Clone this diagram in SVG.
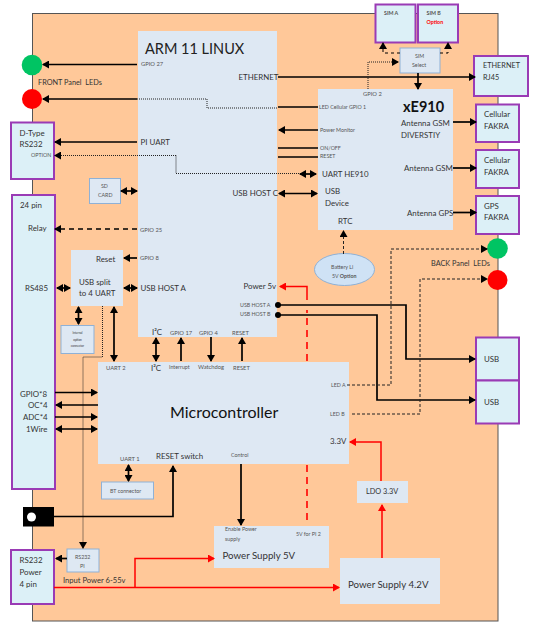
<svg xmlns="http://www.w3.org/2000/svg" width="534" height="628" viewBox="0 0 534 628">
<defs>
<marker id="a" markerUnits="userSpaceOnUse" markerWidth="7" markerHeight="8" refX="6" refY="4" orient="auto-start-reverse"><path d="M0 0L7 4L0 8Z" fill="#000"/></marker>
<marker id="r" markerUnits="userSpaceOnUse" markerWidth="7" markerHeight="8" refX="6" refY="4" orient="auto-start-reverse"><path d="M0 0L7 4L0 8Z" fill="#f00"/></marker>
</defs>
<style>
text{font-family:Lato,"Liberation Sans",sans-serif;fill:#333;font-size:7.300px;white-space:pre}
.s{font-size:5.300px;fill:#555}.t{font-size:5.800px;fill:#555}.m{font-size:7.900px}
.blk{fill:#dee8f3}.pu{fill:#dcf0f7;stroke:#9a3bb5;stroke-width:2}.in{fill:#dee8f3;stroke:#8fb1d6;stroke-width:1}
.c{fill:none;stroke:#000;stroke-width:1.7}.d{fill:none;stroke:#222;stroke-width:1;stroke-dasharray:3 2}
.o{fill:none;stroke:#222;stroke-width:1;stroke-dasharray:1 1}.k{fill:none;stroke:#000;stroke-width:1.4;stroke-dasharray:5 4}
.n{fill:none;stroke:#000;stroke-width:1;stroke-dasharray:3 3}
.rl{fill:none;stroke:#f00;stroke-width:1.5}.rd{fill:none;stroke:#f00;stroke-width:1.6;stroke-dasharray:7 5}
</style>
<rect id="board" x="32.500" y="13.500" width="465.500" height="607.500" fill="#ffc899" stroke="#555" stroke-width="1"/>
<g id="arm"><rect class="blk" x="138" y="31" width="139" height="306"/>
<text x="145" y="53.500" style="font-size:14.500px;fill:#222">ARM 11 LINUX</text>
<text class="t" x="141" y="65.500">GPIO 27</text><text class="m" x="238.500" y="79.500">ETHERNET</text><text class="m" x="140.500" y="145">PI UART</text><text class="m" x="232.500" y="196">USB HOST C</text><text class="t" x="140" y="232">GPIO 25</text><text class="t" x="140" y="260">GPIO 8</text><text class="m" x="140.500" y="291">USB HOST A</text><text class="m" x="243.500" y="289">Power 5v</text><text class="s" x="240" y="307">USB HOST A</text><text class="s" x="240" y="316">USB HOST B</text><text class="m" x="152" y="335">I²C</text><text class="t" x="170" y="335">GPIO 17</text><text class="t" x="199" y="335">GPIO 4</text><text class="t" x="232" y="335">RESET</text></g>
<g id="xe910"><rect class="blk" x="318" y="89" width="135" height="141"/>
<text x="403" y="112" style="font-size:14.500px;font-weight:700;fill:#111">xE910</text>
<text class="t" x="363" y="96">GPIO 2</text><text class="s" x="319" y="109">LED Cellular GPIO 1</text><text class="s" x="320" y="132">Power Monitor</text><text class="s" x="320" y="150">ON/OFF</text><text class="s" x="320" y="158">RESET</text><text class="m" x="322" y="177">UART HE910</text><text class="m" x="325" y="194">USB</text><text class="m" x="325" y="206">Device</text><text class="m" x="401" y="126">Antenna GSM</text><text class="m" x="401" y="138">DIVERSTIY</text><text class="m" x="404" y="171">Antenna GSM</text><text class="m" x="407" y="216">Antenna GPS</text><text class="m" x="338" y="224">RTC</text></g>
<g id="usbsplit"><rect class="blk" x="71" y="250" width="52" height="56"/><text class="m" x="96" y="262">Reset</text><text class="m" x="79" y="285">USB split</text><text class="m" x="79" y="296">to 4 UART</text></g>
<g id="mcu"><rect class="blk" x="98" y="362" width="251" height="102"/>
<text x="170" y="418" style="font-size:16px;fill:#111">Microcontroller</text>
<text class="t" x="106" y="369.500">UART 2</text><text class="m" x="151" y="371">I²C</text><text class="s" x="169" y="369">Interrupt</text><text class="t" x="198" y="369">Watchdog</text><text class="t" x="233" y="370">RESET</text><text class="s" x="331" y="387">LED A</text><text class="s" x="330" y="416">LED B</text><text class="m" x="330" y="444">3.3V</text><text class="t" x="120" y="461">UART 1</text><text class="m" x="156" y="459">RESET switch</text><text class="s" x="231" y="457">Control</text></g>
<g id="ps5"><rect class="blk" x="214" y="526" width="115" height="42"/><text class="s" x="225" y="531">Enable Power</text><text class="s" x="225" y="541">supply</text><text x="222.500" y="559" style="font-size:9.700px">Power Supply 5V</text><text class="s" x="296" y="536">5V for PI 2</text></g>
<g id="ps42"><rect class="blk" x="340" y="558" width="100" height="46"/><text x="348" y="588" style="font-size:9.700px">Power Supply 4.2V</text></g>
<g id="ldo"><rect class="blk" x="357" y="481" width="51" height="22"/><text x="366" y="494">LDO 3.3V</text></g>
<g id="simselect"><rect class="in" x="400" y="48" width="40" height="25"/><text class="s" x="415" y="58">SIM</text><text class="s" x="412" y="67">Select</text></g>
<g id="sima"><rect class="pu" x="375.500" y="4.500" width="40" height="38"/><text class="s" x="384" y="15" style="font-weight:700">SIM A</text></g>
<g id="simb"><rect class="pu" x="418" y="4.500" width="40" height="38"/><text class="s" x="426.500" y="15" style="font-weight:700">SIM B</text><text class="s" x="426.500" y="24" style="fill:#f00;font-weight:700">Option</text></g>
<g id="rj45"><rect class="pu" x="474" y="56" width="54" height="40"/><text x="483" y="68">ETHERNET</text><text x="483" y="80">RJ45</text></g>
<g id="cell1"><rect class="pu" x="476" y="104.500" width="43" height="37.500"/><text class="m" x="484" y="117">Cellular</text><text class="m" x="484" y="129">FAKRA</text></g>
<g id="cell2"><rect class="pu" x="476" y="150" width="43" height="38"/><text class="m" x="484" y="163">Cellular</text><text class="m" x="484" y="175">FAKRA</text></g>
<g id="gps"><rect class="pu" x="476" y="196" width="43" height="38"/><text class="m" x="484" y="209">GPS</text><text class="m" x="484" y="220">FAKRA</text></g>
<g id="usb1"><rect class="pu" x="476" y="337.500" width="43" height="43"/><text class="m" x="484" y="362">USB</text></g>
<g id="usb2"><rect class="pu" x="476" y="380.500" width="43" height="43"/><text class="m" x="484" y="405">USB</text></g>
<g id="dtype"><rect class="pu" x="11" y="122.500" width="43" height="56.500"/><text class="m" x="19.500" y="136">D-Type</text><text class="m" x="19.500" y="147">RS232</text><text class="s" x="31" y="157">OPTION</text></g>
<g id="pin24"><rect class="pu" x="12" y="195" width="43" height="294"/><text class="m" x="20" y="208">24 pin</text><text class="m" x="28" y="231">Relay</text><text class="m" x="25" y="291">RS485</text><text class="m" x="20" y="397">GPIO*8</text><text class="m" x="28" y="408">OC*4</text><text class="m" x="23" y="420">ADC*4</text><text class="m" x="26" y="432">1Wire</text></g>
<g id="pwr4"><rect class="pu" x="11" y="550" width="43" height="54"/><text class="m" x="19.500" y="563">RS232</text><text class="m" x="19.500" y="575">Power</text><text class="m" x="19.500" y="587">4 pin</text></g>
<g id="sd"><rect class="in" x="89.500" y="178.500" width="31" height="25"/><text class="s" x="101" y="188">SD</text><text class="s" x="98" y="197">CARD</text></g>
<g id="internal"><rect class="in" x="61" y="325.500" width="33" height="28"/><text x="77.500" y="334" text-anchor="middle" style="font-size:3px">Internal</text><text x="77.500" y="341" text-anchor="middle" style="font-size:3px">option</text><text x="77.500" y="346.500" text-anchor="middle" style="font-size:3px">connector</text></g>
<g id="bt"><rect class="in" x="101.500" y="482" width="52" height="17"/><text class="s" x="110" y="492.500">BT connector</text></g>
<g id="rs232pi"><rect class="in" x="67" y="549" width="32" height="23"/><text class="s" x="75" y="559">RS232</text><text class="s" x="80" y="568">PI</text></g>
<g id="jack"><rect x="23" y="507" width="31" height="19.500" fill="#000"/><circle cx="31.500" cy="517" r="4.500" fill="#fff"/></g>
<g id="leds"><circle cx="32" cy="65" r="10.300" fill="#00c463"/><circle cx="32" cy="99" r="10" fill="#f00"/><circle cx="497.500" cy="248.500" r="10.300" fill="#00c463"/><circle cx="497.500" cy="280" r="10" fill="#f00"/></g>
<g id="battery"><ellipse cx="344.500" cy="269.500" rx="30" ry="16" fill="#cfe2f5" stroke="#8fb1d6"/><text class="s" x="331" y="269">Battery Li</text><text class="s" x="332" y="278">5V <tspan font-weight="700">Option</tspan></text></g>
<g id="labels"><text x="38" y="85">FRONT Panel  LEDs</text><text x="431" y="266">BACK Panel  LEDs</text><text x="63" y="583" style="font-size:7.600px">Input Power 6-55v</text></g>
<g id="connectors">
<path class="c" marker-end="url(#a)" d="M137 64.500H43"/><path class="c" marker-end="url(#a)" d="M137 99H43"/><path class="c" marker-end="url(#a)" d="M137 142H55"/><path class="o" d="M137 99H207V108H278"/><path class="c" d="M278 107H318"/>
<path class="o" marker-end="url(#a)" d="M176 155.500H55"/><path class="o" d="M176 155.500V173.500H300"/>
<path class="c" marker-start="url(#a)" marker-end="url(#a)" d="M121 191H137"/>
<path class="c" marker-end="url(#a)" d="M278 77H475"/>
<path class="c" marker-end="url(#a)" d="M418 73V89"/>
<path class="o" marker-end="url(#a)" d="M368 89V62H398"/>
<path class="n" marker-end="url(#a)" d="M400 53H383V43"/><path class="n" marker-end="url(#a)" d="M440 53H448V43"/>
<path class="c" marker-end="url(#a)" d="M318 130H279"/><path class="c" d="M278 148H318"/><path class="c" d="M278 157H318"/>
<path class="c" marker-start="url(#a)" marker-end="url(#a)" d="M300 174H316"/>
<path class="c" marker-start="url(#a)" marker-end="url(#a)" d="M279 193.500H317"/>
<path class="c" marker-end="url(#a)" d="M453 122H476"/><path class="c" marker-end="url(#a)" d="M453 168H476"/><path class="c" marker-end="url(#a)" d="M453 212.500H476"/>
<path class="d" marker-end="url(#a)" d="M343.500 254V231"/>
<path class="k" marker-end="url(#a)" d="M137 229H55"/>
<path class="c" marker-end="url(#a)" d="M137 258H124"/>
<path class="c" marker-start="url(#a)" marker-end="url(#a)" d="M124 288H137"/>
<path class="c" marker-start="url(#a)" marker-end="url(#a)" d="M57 288H70"/>
<path class="c" marker-start="url(#a)" marker-end="url(#a)" d="M78.500 307V324"/>
<path class="c" marker-start="url(#a)" marker-end="url(#a)" d="M114 307V361"/>
<path class="o" marker-end="url(#a)" d="M102.500 306V357H83V548"/>
<path class="c" marker-start="url(#a)" marker-end="url(#a)" d="M156 338V361"/>
<path class="c" marker-end="url(#a)" d="M181 361V338"/><path class="c" marker-end="url(#a)" d="M211 337V361"/><path class="c" marker-end="url(#a)" d="M242 361V338"/>
<path class="c" marker-end="url(#a)" d="M55 392.500H97"/><path class="c" marker-end="url(#a)" d="M98 405H56"/><path class="c" marker-end="url(#a)" d="M55 417H97"/><path class="c" marker-start="url(#a)" marker-end="url(#a)" d="M56 429H97"/>
<path class="c" marker-start="url(#a)" marker-end="url(#a)" d="M128.500 465V481"/>
<path class="c" marker-end="url(#a)" d="M54 516.500H173V466"/>
<path class="c" marker-end="url(#a)" d="M241 464V525"/>
<path class="c" marker-end="url(#a)" d="M67 558.500H56"/>
<path class="c" d="M278 305H406V359H475" marker-end="url(#a)"/><path class="c" d="M278 315H377V400H475" marker-end="url(#a)"/>
<circle cx="278" cy="305" r="3"/><circle cx="278" cy="315" r="3"/>
<path class="d" marker-end="url(#a)" d="M347 385H391V249H487"/><path class="d" marker-end="url(#a)" d="M352 414H420V279H487"/>
<path class="rl" marker-end="url(#r)" d="M54 587.500H339"/><path class="rl" marker-end="url(#r)" d="M135 587.500V558.500H214"/>
<path class="rl" marker-end="url(#r)" d="M382 558V505"/><path class="rl" marker-end="url(#r)" d="M381 481V442H350"/>
<path class="rd" d="M307 361V310"/><path class="rl" marker-end="url(#r)" d="M307 300V286.500H280"/><path class="rd" d="M307 465V525"/>
</g>
</svg>
